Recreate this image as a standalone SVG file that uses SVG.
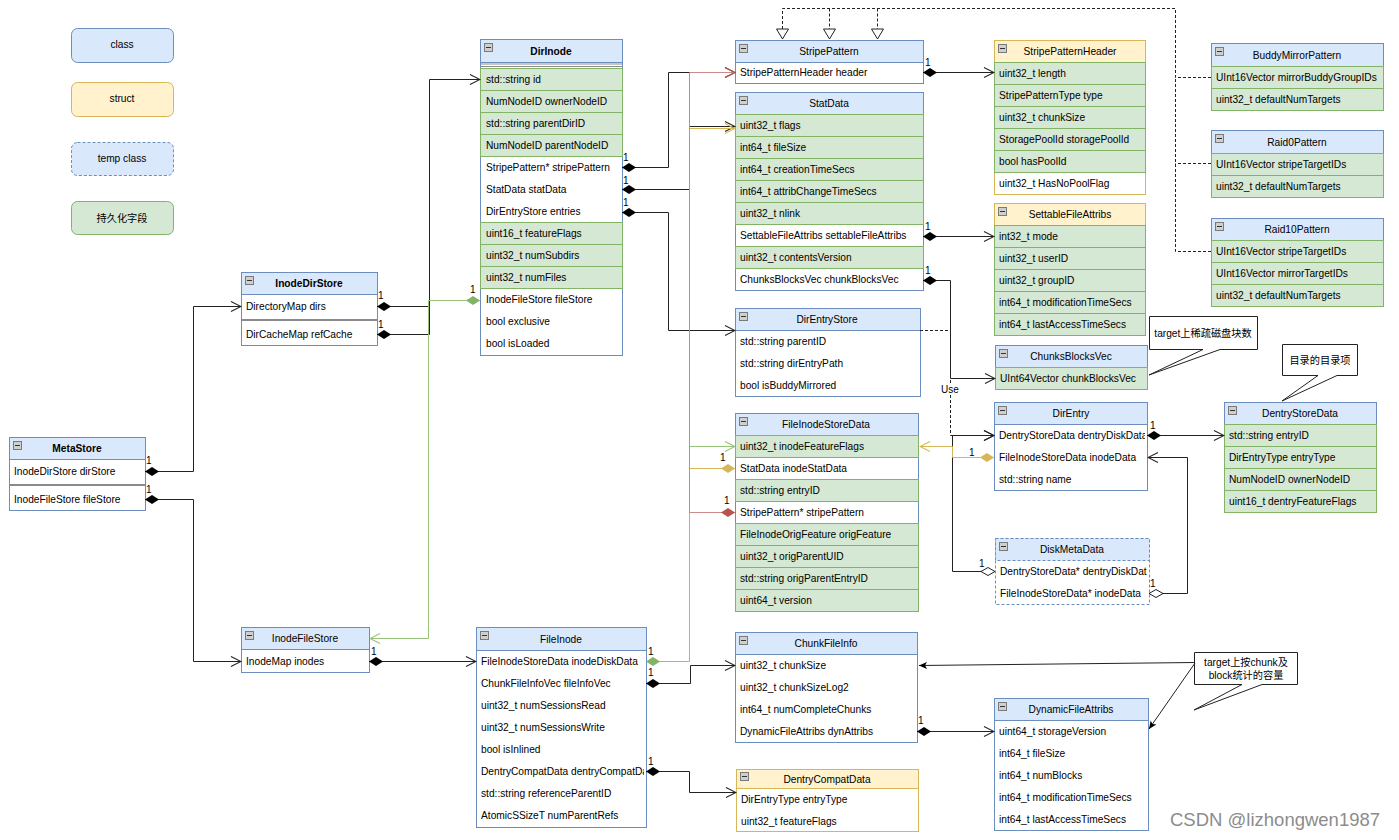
<svg xmlns="http://www.w3.org/2000/svg" xmlns:xlink="http://www.w3.org/1999/xlink" width="1399" height="840" viewBox="0 0 1399 840">
<style>
.t{font-family:"Liberation Sans",Arial,"Noto Sans CJK SC",sans-serif;font-size:10.2px;fill:#000}
.c{text-anchor:middle}
.b{font-weight:bold}
.hdr{fill:#dae8fc;stroke:#6c8ebf}
.hdrY{fill:#fff2cc;stroke:#d6b656}
.box{fill:#fff;stroke:#6c8ebf}
.boxY{fill:#fff;stroke:#d6b656}
.g{fill:#d5e8d4;stroke:#82b366}
.dsh{stroke-dasharray:3 2}
.ln{fill:none;stroke:#222;stroke-width:1}
.lbl{font-family:"Liberation Sans",Arial,sans-serif;font-size:10px;fill:#000}
.call{fill:#fff;stroke:#222;stroke-width:1}
</style>
<defs>
<g id="ic"><rect x="0.5" y="0.5" width="8" height="8" fill="#cfcfcf" stroke="#7a7a7a"/><line x1="2" y1="4.5" x2="7" y2="4.5" stroke="#333"/></g>
<marker id="oa" viewBox="0 0 12 12" refX="11" refY="6" markerWidth="12" markerHeight="12" orient="auto" markerUnits="userSpaceOnUse"><path d="M1,1 L11,6 L1,11" fill="none" stroke="#222" stroke-width="1.1"/></marker>
<marker id="oaR" viewBox="0 0 12 12" refX="11" refY="6" markerWidth="12" markerHeight="12" orient="auto" markerUnits="userSpaceOnUse"><path d="M1,1 L11,6 L1,11" fill="none" stroke="#b85450" stroke-width="1.1"/></marker>
<marker id="oaY" viewBox="0 0 12 12" refX="11" refY="6" markerWidth="12" markerHeight="12" orient="auto" markerUnits="userSpaceOnUse"><path d="M1,1 L11,6 L1,11" fill="none" stroke="#d6b656" stroke-width="1.1"/></marker>
<marker id="oaG" viewBox="0 0 12 12" refX="11" refY="6" markerWidth="12" markerHeight="12" orient="auto" markerUnits="userSpaceOnUse"><path d="M1,1 L11,6 L1,11" fill="none" stroke="#97c27a" stroke-width="1.1"/></marker>
<marker id="fd" viewBox="0 0 14 10" refX="0" refY="5" markerWidth="14" markerHeight="10" orient="auto" markerUnits="userSpaceOnUse"><path d="M0,5 L7,0.5 L14,5 L7,9.5 Z" fill="#000"/></marker>
<marker id="fdR" viewBox="0 0 14 10" refX="0" refY="5" markerWidth="14" markerHeight="10" orient="auto" markerUnits="userSpaceOnUse"><path d="M0,5 L7,0.5 L14,5 L7,9.5 Z" fill="#b85450"/></marker>
<marker id="fdY" viewBox="0 0 14 10" refX="0" refY="5" markerWidth="14" markerHeight="10" orient="auto" markerUnits="userSpaceOnUse"><path d="M0,5 L7,0.5 L14,5 L7,9.5 Z" fill="#d6b656"/></marker>
<marker id="fdG" viewBox="0 0 14 10" refX="0" refY="5" markerWidth="14" markerHeight="10" orient="auto" markerUnits="userSpaceOnUse"><path d="M0,5 L7,0.5 L14,5 L7,9.5 Z" fill="#82b366"/></marker>
<marker id="hd" viewBox="0 0 15 10" refX="0.5" refY="5" markerWidth="15" markerHeight="10" orient="auto" markerUnits="userSpaceOnUse"><path d="M0.5,5 L7.5,1 L14.5,5 L7.5,9 Z" fill="#fff" stroke="#222"/></marker>
<marker id="tri" viewBox="0 0 12 14" refX="11" refY="7" markerWidth="12" markerHeight="14" orient="auto" markerUnits="userSpaceOnUse"><path d="M1,1 L11,7 L1,13 Z" fill="#fff" stroke="#222"/></marker>
<marker id="fa" viewBox="0 0 8 8" refX="8" refY="4" markerWidth="8" markerHeight="8" orient="auto" markerUnits="userSpaceOnUse"><path d="M0,0.5 L8,4 L0,7.5 L2,4 Z" fill="#000"/></marker>
<clipPath id="clipDE"><rect x="994" y="402" width="151" height="88"/></clipPath>
<clipPath id="clipDMD"><rect x="995" y="538" width="152" height="66"/></clipPath>
<clipPath id="clipFI"><rect x="476" y="627" width="168" height="200"/></clipPath>
</defs>
<rect x="0" y="0" width="1399" height="840" fill="#fff"/>

<!-- Legend -->
<g id="legend-class"><rect x="71.5" y="28.5" width="102" height="34" rx="6" class="hdr"/><text class="t c" x="122" y="48">class</text></g>
<g id="legend-struct"><rect x="71.5" y="82.5" width="102" height="34" rx="6" class="hdrY"/><text class="t c" x="122" y="102">struct</text></g>
<g id="legend-temp"><rect x="71.5" y="142.5" width="102" height="33" rx="6" class="hdr dsh"/><text class="t c" x="122" y="162">temp class</text></g>
<g id="legend-persist"><rect x="71.5" y="201.5" width="102" height="33" rx="6" class="g"/><text class="t c" x="122" y="222">持久化字段</text></g>

<!-- MetaStore -->
<g id="MetaStore">
<rect class="box" x="9.5" y="437.5" width="136" height="73"/>
<rect class="hdr" x="9.5" y="437.5" width="136" height="22"/>
<use xlink:href="#ic" x="13" y="441"/>
<text class="t c b" x="77" y="452">MetaStore</text>
<text class="t" x="14" y="475">InodeDirStore dirStore</text>
<line x1="10" y1="485" x2="145" y2="485" stroke="#8a8a8a" stroke-width="2"/>
<text class="t" x="14" y="503">InodeFileStore fileStore</text>
</g>

<!-- InodeDirStore -->
<g id="InodeDirStore">
<rect class="box" x="241.5" y="272.5" width="136" height="73"/>
<rect class="hdr" x="241.5" y="272.5" width="136" height="22"/>
<use xlink:href="#ic" x="245" y="276"/>
<text class="t c b" x="309" y="287">InodeDirStore</text>
<text class="t" x="246" y="310">DirectoryMap dirs</text>
<line x1="242" y1="320" x2="377" y2="320" stroke="#8a8a8a" stroke-width="2"/>
<text class="t" x="246" y="338">DirCacheMap refCache</text>
</g>

<!-- InodeFileStore -->
<g id="InodeFileStore">
<rect class="box" x="241.5" y="627.5" width="128" height="45"/>
<rect class="hdr" x="241.5" y="627.5" width="128" height="22"/>
<use xlink:href="#ic" x="245" y="631"/>
<text class="t c" x="305" y="642">InodeFileStore</text>
<text class="t" x="246" y="665">InodeMap inodes</text>
</g>

<!-- DirInode -->
<g id="DirInode">
<rect class="box" x="480.5" y="39.5" width="142" height="316"/>
<rect class="hdr" x="480.5" y="39.5" width="142" height="23"/>
<use xlink:href="#ic" x="484" y="43"/>
<text class="t c b" x="551" y="55">DirInode</text>
<line x1="481" y1="64" x2="622" y2="64" stroke="#8a8a8a"/>
<line x1="481" y1="66.5" x2="622" y2="66.5" stroke="#8a8a8a"/>
<rect class="g" x="480.5" y="68.5" width="142" height="22"/>
<rect class="g" x="480.5" y="90.5" width="142" height="22"/>
<rect class="g" x="480.5" y="112.5" width="142" height="22"/>
<rect class="g" x="480.5" y="134.5" width="142" height="22"/>
<rect class="g" x="480.5" y="222.5" width="142" height="22"/>
<rect class="g" x="480.5" y="244.5" width="142" height="22"/>
<rect class="g" x="480.5" y="266.5" width="142" height="22"/>
<text class="t" x="486" y="83">std::string id</text>
<text class="t" x="486" y="105">NumNodeID ownerNodeID</text>
<text class="t" x="486" y="127">std::string parentDirID</text>
<text class="t" x="486" y="149">NumNodeID parentNodeID</text>
<text class="t" x="486" y="171">StripePattern* stripePattern</text>
<text class="t" x="486" y="193">StatData statData</text>
<text class="t" x="486" y="215">DirEntryStore entries</text>
<text class="t" x="486" y="237">uint16_t featureFlags</text>
<text class="t" x="486" y="259">uint32_t numSubdirs</text>
<text class="t" x="486" y="281">uint32_t numFiles</text>
<text class="t" x="486" y="303">InodeFileStore fileStore</text>
<text class="t" x="486" y="325">bool exclusive</text>
<text class="t" x="486" y="347">bool isLoaded</text>
</g>

<!-- FileInode -->
<g id="FileInode">
<rect class="box" x="476.5" y="627.5" width="170" height="200"/>
<rect class="hdr" x="476.5" y="627.5" width="170" height="23"/>
<use xlink:href="#ic" x="480" y="631"/>
<text class="t c" x="561" y="643">FileInode</text>
<g clip-path="url(#clipFI)">
<text class="t" x="481" y="665">FileInodeStoreData inodeDiskData</text>
<text class="t" x="481" y="687">ChunkFileInfoVec fileInfoVec</text>
<text class="t" x="481" y="709">uint32_t numSessionsRead</text>
<text class="t" x="481" y="731">uint32_t numSessionsWrite</text>
<text class="t" x="481" y="753">bool isInlined</text>
<text class="t" x="481" y="775">DentryCompatData dentryCompatData</text>
<text class="t" x="481" y="797">std::string referenceParentID</text>
<text class="t" x="481" y="819">AtomicSSizeT numParentRefs</text>
</g>
</g>

<!-- StripePattern -->
<g id="StripePattern">
<rect class="box" x="735.5" y="40.5" width="188" height="43"/>
<rect class="hdr" x="735.5" y="40.5" width="188" height="22"/>
<use xlink:href="#ic" x="739" y="44"/>
<text class="t c" x="829" y="55">StripePattern</text>
<text class="t" x="740" y="76">StripePatternHeader header</text>
</g>

<!-- StatData -->
<g id="StatData">
<rect class="box" x="735.5" y="92.5" width="188" height="198"/>
<rect class="hdr" x="735.5" y="92.5" width="188" height="22"/>
<use xlink:href="#ic" x="739" y="96"/>
<text class="t c" x="829" y="107">StatData</text>
<rect class="g" x="735.5" y="114.5" width="188" height="22"/>
<rect class="g" x="735.5" y="136.5" width="188" height="22"/>
<rect class="g" x="735.5" y="158.5" width="188" height="22"/>
<rect class="g" x="735.5" y="180.5" width="188" height="22"/>
<rect class="g" x="735.5" y="202.5" width="188" height="22"/>
<rect class="g" x="735.5" y="246.5" width="188" height="22"/>
<text class="t" x="740" y="129">uint32_t flags</text>
<text class="t" x="740" y="151">int64_t fileSize</text>
<text class="t" x="740" y="173">int64_t creationTimeSecs</text>
<text class="t" x="740" y="195">int64_t attribChangeTimeSecs</text>
<text class="t" x="740" y="217">uint32_t nlink</text>
<text class="t" x="740" y="239">SettableFileAttribs settableFileAttribs</text>
<text class="t" x="740" y="261">uint32_t contentsVersion</text>
<text class="t" x="740" y="283">ChunksBlocksVec chunkBlocksVec</text>
</g>

<!-- StripePatternHeader -->
<g id="StripePatternHeader">
<rect class="boxY" x="994.5" y="40.5" width="151" height="154"/>
<rect class="hdrY" x="994.5" y="40.5" width="151" height="22"/>
<use xlink:href="#ic" x="998" y="44"/>
<text class="t c" x="1070" y="55">StripePatternHeader</text>
<rect class="g" x="994.5" y="62.5" width="151" height="22"/>
<rect class="g" x="994.5" y="84.5" width="151" height="22"/>
<rect class="g" x="994.5" y="106.5" width="151" height="22"/>
<rect class="g" x="994.5" y="128.5" width="151" height="22"/>
<rect class="g" x="994.5" y="150.5" width="151" height="22"/>
<text class="t" x="999" y="77">uint32_t length</text>
<text class="t" x="999" y="99">StripePatternType type</text>
<text class="t" x="999" y="121">uint32_t chunkSize</text>
<text class="t" x="999" y="143">StoragePoolId storagePoolId</text>
<text class="t" x="999" y="165">bool hasPoolId</text>
<text class="t" x="999" y="187">uint32_t HasNoPoolFlag</text>
</g>

<!-- SettableFileAttribs -->
<g id="SettableFileAttribs">
<rect class="boxY" x="994.5" y="203.5" width="151" height="132"/>
<rect class="hdrY" x="994.5" y="203.5" width="151" height="22"/>
<use xlink:href="#ic" x="998" y="207"/>
<text class="t c" x="1070" y="218">SettableFileAttribs</text>
<rect class="g" x="994.5" y="225.5" width="151" height="22"/>
<rect class="g" x="994.5" y="247.5" width="151" height="22"/>
<rect class="g" x="994.5" y="269.5" width="151" height="22"/>
<rect class="g" x="994.5" y="291.5" width="151" height="22"/>
<rect class="g" x="994.5" y="313.5" width="151" height="22"/>
<text class="t" x="999" y="240">int32_t mode</text>
<text class="t" x="999" y="262">uint32_t userID</text>
<text class="t" x="999" y="284">uint32_t groupID</text>
<text class="t" x="999" y="306">int64_t modificationTimeSecs</text>
<text class="t" x="999" y="328">int64_t lastAccessTimeSecs</text>
</g>

<!-- ChunksBlocksVec -->
<g id="ChunksBlocksVec">
<rect class="box" x="995.5" y="345.5" width="152" height="44"/>
<rect class="hdr" x="995.5" y="345.5" width="152" height="22"/>
<use xlink:href="#ic" x="999" y="349"/>
<text class="t c" x="1071" y="360">ChunksBlocksVec</text>
<rect class="g" x="995.5" y="367.5" width="152" height="22"/>
<text class="t" x="1000" y="382">UInt64Vector chunkBlocksVec</text>
</g>

<!-- BuddyMirrorPattern -->
<g id="BuddyMirrorPattern">
<rect class="box" x="1211.5" y="43.5" width="172" height="67"/>
<rect class="hdr" x="1211.5" y="43.5" width="172" height="23"/>
<use xlink:href="#ic" x="1215" y="47"/>
<text class="t c" x="1297" y="59">BuddyMirrorPattern</text>
<rect class="g" x="1211.5" y="66.5" width="172" height="22"/>
<rect class="g" x="1211.5" y="88.5" width="172" height="22"/>
<text class="t" x="1216" y="81">UInt16Vector mirrorBuddyGroupIDs</text>
<text class="t" x="1216" y="103">uint32_t defaultNumTargets</text>
</g>

<!-- Raid0Pattern -->
<g id="Raid0Pattern">
<rect class="box" x="1211.5" y="130.5" width="172" height="67"/>
<rect class="hdr" x="1211.5" y="130.5" width="172" height="23"/>
<use xlink:href="#ic" x="1215" y="134"/>
<text class="t c" x="1297" y="146">Raid0Pattern</text>
<rect class="g" x="1211.5" y="153.5" width="172" height="22"/>
<rect class="g" x="1211.5" y="175.5" width="172" height="22"/>
<text class="t" x="1216" y="168">UInt16Vector stripeTargetIDs</text>
<text class="t" x="1216" y="190">uint32_t defaultNumTargets</text>
</g>

<!-- Raid10Pattern -->
<g id="Raid10Pattern">
<rect class="box" x="1211.5" y="218.5" width="172" height="88"/>
<rect class="hdr" x="1211.5" y="218.5" width="172" height="22"/>
<use xlink:href="#ic" x="1215" y="222"/>
<text class="t c" x="1297" y="233">Raid10Pattern</text>
<rect class="g" x="1211.5" y="240.5" width="172" height="22"/>
<rect class="g" x="1211.5" y="262.5" width="172" height="22"/>
<rect class="g" x="1211.5" y="284.5" width="172" height="22"/>
<text class="t" x="1216" y="255">UInt16Vector stripeTargetIDs</text>
<text class="t" x="1216" y="277">UInt16Vector mirrorTargetIDs</text>
<text class="t" x="1216" y="299">uint32_t defaultNumTargets</text>
</g>

<!-- DirEntryStore -->
<g id="DirEntryStore">
<rect class="box" x="735.5" y="308.5" width="185" height="88"/>
<rect class="hdr" x="735.5" y="308.5" width="185" height="22"/>
<use xlink:href="#ic" x="739" y="312"/>
<text class="t c" x="827" y="323">DirEntryStore</text>
<text class="t" x="740" y="345">std::string parentID</text>
<text class="t" x="740" y="367">std::string dirEntryPath</text>
<text class="t" x="740" y="389">bool isBuddyMirrored</text>
</g>

<!-- FileInodeStoreData -->
<g id="FileInodeStoreData">
<rect class="box" x="735.5" y="413.5" width="183" height="198"/>
<rect class="hdr" x="735.5" y="413.5" width="183" height="22"/>
<use xlink:href="#ic" x="739" y="417"/>
<text class="t c" x="826" y="428">FileInodeStoreData</text>
<rect class="g" x="735.5" y="435.5" width="183" height="22"/>
<rect class="g" x="735.5" y="479.5" width="183" height="22"/>
<rect class="g" x="735.5" y="523.5" width="183" height="22"/>
<rect class="g" x="735.5" y="545.5" width="183" height="22"/>
<rect class="g" x="735.5" y="567.5" width="183" height="22"/>
<rect class="g" x="735.5" y="589.5" width="183" height="22"/>
<text class="t" x="740" y="450">uint32_t inodeFeatureFlags</text>
<text class="t" x="740" y="472">StatData inodeStatData</text>
<text class="t" x="740" y="494">std::string entryID</text>
<text class="t" x="740" y="516">StripePattern* stripePattern</text>
<text class="t" x="740" y="538">FileInodeOrigFeature origFeature</text>
<text class="t" x="740" y="560">uint32_t origParentUID</text>
<text class="t" x="740" y="582">std::string origParentEntryID</text>
<text class="t" x="740" y="604">uint64_t version</text>
</g>

<!-- DirEntry -->
<g id="DirEntry">
<rect class="box" x="994.5" y="402.5" width="153" height="88"/>
<rect class="hdr" x="994.5" y="402.5" width="153" height="22"/>
<use xlink:href="#ic" x="998" y="406"/>
<text class="t c" x="1071" y="417">DirEntry</text>
<g clip-path="url(#clipDE)">
<text class="t" x="999" y="439">DentryStoreData dentryDiskData</text>
<text class="t" x="999" y="461">FileInodeStoreData inodeData</text>
<text class="t" x="999" y="483">std::string name</text>
</g>
</g>

<!-- DiskMetaData -->
<g id="DiskMetaData">
<rect class="box dsh" x="995.5" y="538.5" width="154" height="66" stroke="#9db4dc"/>
<rect class="hdr dsh" x="995.5" y="538.5" width="154" height="22" stroke="#9db4dc"/>
<use xlink:href="#ic" x="999" y="542"/>
<text class="t c" x="1072" y="553">DiskMetaData</text>
<g clip-path="url(#clipDMD)">
<text class="t" x="1000" y="575">DentryStoreData* dentryDiskData</text>
<text class="t" x="1000" y="597">FileInodeStoreData* inodeData</text>
</g>
</g>

<!-- DentryStoreData -->
<g id="DentryStoreData">
<rect class="box" x="1224.5" y="402.5" width="152" height="110"/>
<rect class="hdr" x="1224.5" y="402.5" width="152" height="22"/>
<use xlink:href="#ic" x="1228" y="406"/>
<text class="t c" x="1300" y="417">DentryStoreData</text>
<rect class="g" x="1224.5" y="424.5" width="152" height="22"/>
<rect class="g" x="1224.5" y="446.5" width="152" height="22"/>
<rect class="g" x="1224.5" y="468.5" width="152" height="22"/>
<rect class="g" x="1224.5" y="490.5" width="152" height="22"/>
<text class="t" x="1229" y="439">std::string entryID</text>
<text class="t" x="1229" y="461">DirEntryType entryType</text>
<text class="t" x="1229" y="483">NumNodeID ownerNodeID</text>
<text class="t" x="1229" y="505">uint16_t dentryFeatureFlags</text>
</g>

<!-- ChunkFileInfo -->
<g id="ChunkFileInfo">
<rect class="box" x="735.5" y="632.5" width="182" height="110"/>
<rect class="hdr" x="735.5" y="632.5" width="182" height="22"/>
<use xlink:href="#ic" x="739" y="636"/>
<text class="t c" x="826" y="647">ChunkFileInfo</text>
<text class="t" x="740" y="669">uint32_t chunkSize</text>
<text class="t" x="740" y="691">uint32_t chunkSizeLog2</text>
<text class="t" x="740" y="713">int64_t numCompleteChunks</text>
<text class="t" x="740" y="735">DynamicFileAttribs dynAttribs</text>
</g>

<!-- DentryCompatData -->
<g id="DentryCompatData">
<rect class="boxY" x="736.5" y="769.5" width="182" height="62"/>
<rect class="hdrY" x="736.5" y="769.5" width="182" height="19"/>
<use xlink:href="#ic" x="740" y="772"/>
<text class="t c" x="827" y="783">DentryCompatData</text>
<text class="t" x="741" y="803">DirEntryType entryType</text>
<text class="t" x="741" y="825">uint32_t featureFlags</text>
</g>

<!-- DynamicFileAttribs -->
<g id="DynamicFileAttribs">
<rect class="box" x="994.5" y="698.5" width="154" height="132"/>
<rect class="hdr" x="994.5" y="698.5" width="154" height="22"/>
<use xlink:href="#ic" x="998" y="702"/>
<text class="t c" x="1071" y="713">DynamicFileAttribs</text>
<text class="t" x="999" y="735">uint64_t storageVersion</text>
<text class="t" x="999" y="757">int64_t fileSize</text>
<text class="t" x="999" y="779">int64_t numBlocks</text>
<text class="t" x="999" y="801">int64_t modificationTimeSecs</text>
<text class="t" x="999" y="823">int64_t lastAccessTimeSecs</text>
</g>

<!-- Callouts -->
<g id="note-sparse">
<path class="call" d="M1149.5,316.5 H1257.5 V349.5 H1220 L1149,375 L1203,349.5 H1149.5 Z"/>
<text class="t c" x="1203" y="337">target上稀疏磁盘块数</text>
</g>
<g id="note-dentry">
<path class="call" d="M1282.5,344.5 H1357.5 V375.5 H1337 L1282,401 L1318,375.5 H1282.5 Z"/>
<text class="t c" x="1320" y="364">目录的目录项</text>
</g>
<g id="note-capacity">
<path class="call" d="M1194.5,652.5 H1297.5 V684.5 H1262 L1194,710 L1242,684.5 H1194.5 Z"/>
<text class="t c" x="1246" y="666">target上按chunk及</text>
<text class="t c" x="1246" y="679">block统计的容量</text>
</g>

<!-- Connectors -->
<g id="connectors">
<!-- inheritance -->
<path class="ln" d="M1211,77.5 H1175.5 V8.5 H782.5 V39" stroke-dasharray="3 2" marker-end="url(#tri)"/>
<path class="ln" d="M829.5,8.5 V39" stroke-dasharray="3 2" marker-end="url(#tri)"/>
<path class="ln" d="M877.5,8.5 V39" stroke-dasharray="3 2" marker-end="url(#tri)"/>
<path class="ln" d="M1211,163.5 H1175.5" stroke-dasharray="3 2"/>
<path class="ln" d="M1211,251.5 H1175.5 V77.5" stroke-dasharray="3 2"/>

<!-- black compositions -->
<path class="ln" d="M145,471.5 H193.5 V306.5 H241" marker-start="url(#fd)" marker-end="url(#oa)"/>
<path class="ln" d="M145,499.5 H193.5 V661.5 H241" marker-start="url(#fd)" marker-end="url(#oa)"/>
<path class="ln" d="M377,306.5 H429.5 V79.5 H480" marker-start="url(#fd)" marker-end="url(#oa)"/>
<path class="ln" d="M377,334.5 H429.5 V306.5" marker-start="url(#fd)"/>
<path class="ln" d="M369,661.5 H476" marker-start="url(#fd)" marker-end="url(#oa)"/>
<path class="ln" d="M622,167.5 H668.5 V72.5 H735" marker-start="url(#fd)" marker-end="url(#oa)"/>
<path class="ln" d="M622,189.5 H689.5 V126.5 H735" marker-start="url(#fd)" marker-end="url(#oa)"/>
<path class="ln" d="M622,212.5 H668.5 V330.5 H735" marker-start="url(#fd)" marker-end="url(#oa)"/>
<path class="ln" d="M923,72.5 H994" marker-start="url(#fd)" marker-end="url(#oa)"/>
<path class="ln" d="M923,236.5 H994" marker-start="url(#fd)" marker-end="url(#oa)"/>
<path class="ln" d="M923,280.5 H950.5 V378.5 H995" marker-start="url(#fd)" marker-end="url(#oa)"/>
<path class="ln" d="M646,683.5 H690.5 V665.5 H735" marker-start="url(#fd)" marker-end="url(#oa)"/>
<path class="ln" d="M646,771.5 H689.5 V792.5 H736" marker-start="url(#fd)" marker-end="url(#oa)"/>
<path class="ln" d="M917,731.5 H994" marker-start="url(#fd)" marker-end="url(#oa)"/>
<path class="ln" d="M1147,435.5 H1224" marker-start="url(#fd)" marker-end="url(#oa)"/>
<path class="ln" d="M995,571.5 H952.5 V435.5 H994" marker-start="url(#hd)" marker-end="url(#oa)"/>
<path class="ln" d="M1149,593.5 H1187.5 V457.5 H1148" marker-start="url(#hd)" marker-end="url(#oa)"/>
<!-- use dependency -->
<path class="ln" d="M920,330.5 H950.5 V435.5 H994" stroke-dasharray="3 2" marker-end="url(#oa)"/>
<rect x="940" y="383" width="21" height="12" fill="#fff"/>
<text class="lbl c" x="950" y="393">Use</text>

<!-- coloured -->
<path d="M735,468.5 H689.5 V128.5 H735" fill="none" stroke="#d6b656" marker-start="url(#fdY)" marker-end="url(#oaY)"/>
<path d="M994,457.5 H952.5 V446.5 H920" fill="none" stroke="#d6b656" marker-start="url(#fdY)" marker-end="url(#oaY)"/>
<path d="M646,661.5 H689.5 V446.5 H735" fill="none" stroke="#97c27a" marker-start="url(#fdG)" marker-end="url(#oaG)"/>
<path d="M480,300.5 H428.5 V638.5 H370" fill="none" stroke="#97c27a" marker-start="url(#fdG)" marker-end="url(#oaG)"/>
<path d="M735,512.5 H689.5 V72.5 H735" fill="none" stroke="#c98a88" marker-start="url(#fdR)" marker-end="url(#oaR)"/>

<!-- note arrows -->
<path class="ln" d="M1195,662.5 L919,665.5" marker-end="url(#fa)"/>
<path class="ln" d="M1195,663 L1149,729" marker-end="url(#fa)"/>

<!-- multiplicities -->
<text class="lbl" x="146" y="464">1</text>
<text class="lbl" x="146" y="493">1</text>
<text class="lbl" x="378" y="299">1</text>
<text class="lbl" x="378" y="328" fill="#1f5fbf">1</text>
<text class="lbl" x="470" y="293">1</text>
<text class="lbl" x="371" y="655" fill="#1f5fbf">1</text>
<text class="lbl" x="623" y="161">1</text>
<text class="lbl" x="623" y="184">1</text>
<text class="lbl" x="623" y="206">1</text>
<text class="lbl" x="925" y="66">1</text>
<text class="lbl" x="925" y="230" fill="#1f5fbf">1</text>
<text class="lbl" x="925" y="274">1</text>
<text class="lbl" x="720" y="461" fill="#8a3a1a">1</text>
<text class="lbl" x="724" y="504" fill="#1f5fbf">1</text>
<text class="lbl" x="969" y="456" fill="#8a3a1a">1</text>
<text class="lbl" x="979" y="567">1</text>
<text class="lbl" x="1150" y="429" fill="#8a3a1a">1</text>
<text class="lbl" x="1150" y="587" fill="#1f5fbf">1</text>
<text class="lbl" x="648" y="655">1</text>
<text class="lbl" x="648" y="676">1</text>
<text class="lbl" x="648" y="765">1</text>
<text class="lbl" x="918" y="724">1</text>
</g>

<text x="1170" y="826" style="font-family:'Liberation Sans',Arial,sans-serif;font-size:18.5px;fill:#8c8c8c">CSDN @lizhongwen1987</text>
</svg>
